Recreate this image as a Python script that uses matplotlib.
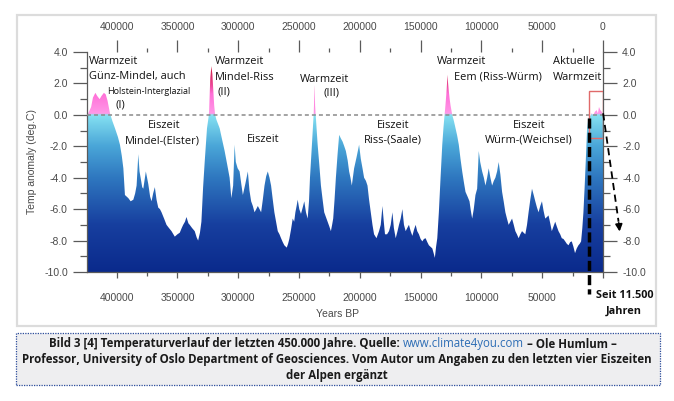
import matplotlib.pyplot as plt
import numpy as np
from matplotlib import font_manager
from matplotlib.colors import LinearSegmentedColormap
from matplotlib.patches import Rectangle
from matplotlib.ticker import FixedLocator, MultipleLocator, FormatStrFormatter, FuncFormatter

plt.rcParams['axes.unicode_minus'] = False
plt.rcParams['font.family'] = ['Liberation Sans', 'DejaVu Sans']

# Vostok Temperaturanomalie, Werte (Jahre BP, deg C)
age_bp = [424000, 421000, 419500, 417500, 416000, 414000, 412500, 410500, 409000, 407500,
          405500, 403500, 401400, 399000, 397300, 395800, 394500, 393200, 391800, 390400,
          388500, 386300, 384800, 383600, 382200, 381200, 380300, 379000, 378100, 376000,
          374000, 372500, 371300, 370000, 368600, 367200, 365800, 364400, 363100, 361000,
          359000, 357000, 354900, 352200, 350000, 348100, 346500, 345300, 343800, 342600,
          341000, 339900, 338000, 335800, 334200, 333000, 331500, 330300, 328900, 327600,
          325700, 324500, 324000, 323000, 322100, 321300, 320700, 319800, 319000, 318000,
          315300, 313200, 311200, 309000, 307100, 305700, 304200, 303000, 302000, 300500,
          298900, 297500, 296200, 294200, 292100, 290800, 289400, 288000, 286600, 285200,
          283900, 282500, 281200, 279800, 278400, 277000, 275700, 274300, 273000, 271600,
          270300, 268900, 267500, 266100, 264800, 263400, 262100, 260100, 259000, 258000,
          256600, 255200, 254000, 253000, 252000, 251100, 249800, 248400, 247000, 245700,
          244300, 242900, 241800, 241000, 239400, 238000, 237600, 237200, 236800, 236300,
          234700, 233300, 232000, 230600, 229300, 227900, 226500, 225100, 223800, 222800,
          221900, 220800, 219700, 218300, 217000, 215600, 214200, 212800, 211500, 210000,
          208800, 207700, 206600, 204700, 202700, 200600, 199200, 197800, 196500, 195000,
          193700, 192400, 191000, 189600, 188300, 186300, 184200, 182800, 181400, 180300,
          179300, 177600, 176000, 174600, 173200, 172000, 170500, 169000, 167800, 166400,
          165000, 163700, 162300, 161000, 159600, 158200, 156800, 155400, 154100, 152800,
          151400, 150000, 148600, 147300, 145900, 144500, 143200, 141800, 140400, 139300,
          138300, 137300, 136300, 135000, 133600, 132200, 131200, 130300, 129600, 128900,
          128300, 127900, 127400, 126800, 126100, 125400, 124700, 124000, 122600, 121300,
          120000, 118600, 117200, 115800, 114400, 113100, 111400, 109800, 108700, 107600,
          106300, 104900, 103500, 102200, 101000, 99400, 98000, 96700, 95300, 94000,
          92600, 91200, 89800, 88500, 87100, 85800, 84400, 83000, 81700, 80300,
          79000, 77600, 76200, 74800, 73400, 72100, 70800, 69400, 68000, 66600,
          65300, 63900, 62500, 61200, 59800, 58400, 57000, 55700, 54300, 53000,
          51600, 50200, 48900, 47500, 46100, 44800, 43400, 42100, 40700, 39300,
          38000, 36600, 35200, 33900, 32500, 31100, 29800, 28400, 27000, 25700,
          24300, 23000, 21600, 20200, 19100, 18000, 17000, 16100, 15100, 14200,
          13100, 12000, 10700, 9400, 8000, 6600, 5200, 4200, 3300, 2200,
          1100, 0]
temp_anom = [0.0, 0.5, 1.1, 1.4, 1.2, 1.0, 1.2, 1.4, 1.3, 0.9,
             0.1, -0.4, -0.85, -1.4, -1.9, -2.6, -3.4, -5.1, -5.2, -5.3,
             -5.5, -5.4, -5.0, -4.5, -2.5, -3.6, -4.0, -4.6, -4.7, -3.6,
             -4.4, -5.2, -5.5, -5.0, -4.6, -5.4, -5.9, -6.0, -6.2, -6.6,
             -7.0, -7.2, -7.4, -7.75, -7.6, -7.5, -7.2, -7.0, -6.8, -6.5,
             -6.9, -7.0, -7.2, -7.4, -7.8, -8.0, -7.5, -6.8, -4.6, -3.0,
             -0.85, -0.2, 0.2, 2.35, 3.1, 2.6, 1.8, 0.6, 0.0, -0.3,
             -0.85, -1.6, -2.3, -3.2, -4.0, -5.3, -4.5, -1.9, -3.0, -3.4,
             -3.6, -4.4, -5.1, -4.4, -3.6, -4.8, -5.5, -5.8, -6.2, -6.0,
             -5.8, -6.0, -6.2, -5.4, -4.5, -3.9, -3.6, -4.0, -4.5, -5.4,
             -6.2, -6.8, -7.4, -7.6, -7.85, -8.1, -8.3, -8.45, -8.2, -7.9,
             -7.3, -6.6, -6.8, -6.2, -5.8, -5.4, -6.0, -6.3, -5.9, -5.5,
             -6.2, -6.6, -5.5, -4.0, -1.9, 0.0, 0.8, 1.9, 0.6, 0.0,
             -1.9, -3.2, -4.5, -5.4, -6.2, -6.5, -6.8, -7.1, -7.4, -7.0,
             -6.6, -5.4, -4.0, -2.5, -1.27, -1.5, -1.7, -2.0, -2.3, -2.9,
             -3.6, -4.0, -4.5, -3.4, -2.7, -1.9, -2.8, -3.4, -4.0, -4.2,
             -4.5, -5.4, -6.2, -7.0, -7.6, -7.85, -7.4, -7.0, -5.8, -6.8,
             -7.6, -7.6, -7.4, -7.0, -6.2, -7.2, -7.85, -7.4, -7.0, -6.6,
             -6.0, -7.0, -7.4, -7.2, -7.0, -7.4, -7.7, -7.3, -7.0, -7.4,
             -7.6, -7.9, -8.05, -7.9, -7.85, -8.1, -8.3, -8.4, -8.5, -8.8,
             -9.1, -8.4, -7.85, -6.2, -4.0, -1.9, -0.8, 0.0, 0.6, 1.27,
             2.0, 2.55, 2.0, 1.5, 1.0, 0.6, 0.3, 0.0, -0.4, -0.85,
             -1.3, -1.9, -2.8, -3.6, -4.3, -4.9, -5.2, -5.5, -6.1, -6.6,
             -6.0, -5.1, -4.7, -2.3, -3.0, -3.6, -4.0, -4.5, -4.0, -3.4,
             -4.0, -4.5, -4.2, -4.0, -3.6, -3.0, -3.8, -4.9, -5.5, -6.2,
             -6.6, -7.0, -6.8, -6.6, -7.0, -7.4, -7.6, -7.85, -7.6, -7.4,
             -7.5, -7.6, -7.0, -6.2, -5.4, -4.7, -5.1, -5.5, -5.9, -6.2,
             -5.8, -5.5, -6.1, -6.6, -6.5, -6.4, -6.9, -7.4, -7.1, -6.8,
             -7.1, -7.4, -7.6, -7.85, -7.9, -8.05, -8.2, -8.3, -8.1, -8.05,
             -8.4, -8.8, -8.5, -8.3, -8.2, -8.05, -7.2, -6.2, -4.6, -3.0,
             -0.85, -0.2, -0.1, 0.1, 0.0, 0.2, 0.3, 0.1, 0.5, 0.3,
             0.2, 0.0]

x_ticks = [400000, 350000, 300000, 250000, 200000, 150000, 100000, 50000, 0]

# Farbverlauf der Fläche: blau unter 0, rosa/rot über 0
color_stops = [(-10, '#0a2a8c'), (-7, '#173f9f'), (-4, '#2f78c0'), (-2, '#4aa6d8'),
               (-0.01, '#86e2f2'), (0.0, '#ff9ae8'), (1.3, '#ff70d8'), (2.0, '#e8408a'),
               (3.2, '#c81838'), (4.0, '#c81838')]

warm_labels = [('Warmzeit', 89, 62), ('Günz-Mindel, auch', 89, 77), ('(I)', 115, 105),
               ('Warmzeit', 215, 62), ('Mindel-Riss', 215, 77), ('(II)', 218, 92),
               ('Warmzeit', 300, 79), ('(III)', 323, 93),
               ('Warmzeit', 437, 62), ('Eem (Riss-Würm)', 454, 77),
               ('Aktuelle', 553, 62), ('Warmzeit', 553, 77)]
cold_labels = [('Eiszeit', 164, 126), ('Mindel-(Elster)', 162, 141),
               ('Eiszeit', 263, 140),
               ('Eiszeit', 393, 125), ('Riss-(Saale)', 393, 140),
               ('Eiszeit', 529, 125), ('Würm-(Weichsel)', 529, 140)]

cap_line1 = ['Bild 3 [4] Temperaturverlauf der letzten 450.000 Jahre. Quelle:',
             'www.climate4you.com', '– Ole Humlum –']
cap_line2 = ('Professor, University of Oslo Department of Geosciences. '
             'Vom Autor um Angaben zu den letzten vier Eiszeiten')
cap_line3 = 'der Alpen ergänzt'

W, H = 674, 401


def fx(x):
    return x / W


def fy(y):
    return 1 - y / H


fig = plt.figure(figsize=(W / 100, H / 100), dpi=100)

# Rahmen um die Grafik und Kasten der Bildunterschrift
fig.add_artist(Rectangle((fx(17), fy(326)), fx(656) - fx(17), fy(15) - fy(326),
                         transform=fig.transFigure, fill=False, ec='#dcdcdc', lw=1.6))
fig.add_artist(Rectangle((fx(16), fy(385)), fx(660) - fx(16), fy(333) - fy(385),
                         transform=fig.transFigure, fc='#eeeef0', ec='#2b4c9b',
                         lw=0.9, ls=(0, (1, 1))))

ax = fig.add_axes([fx(87), fy(272), fx(603) - fx(87), fy(52) - fy(272)])

cmap = LinearSegmentedColormap.from_list('vostok', [((v + 10) / 14, c) for v, c in color_stops])
poly = ax.fill_between(age_bp, temp_anom, -10, color='none', lw=0)
grad = np.linspace(-10, 4, 1400).reshape(-1, 1)
im = ax.imshow(grad, extent=(age_bp[0], age_bp[-1], -10, 4), origin='lower', aspect='auto',
               cmap=cmap, vmin=-10, vmax=4, interpolation='bilinear', zorder=1)
im.set_clip_path(poly.get_paths()[0], transform=ax.transData)

ax.set_xlim(424400, 0)
ax.set_ylim(-10, 4)
ax.axhline(0, color='#8a8a8a', lw=1.1, ls=(0, (2.6, 2)), zorder=3)

tick_col = '#5a5a5a'
lab_col = '#4a4a4a'
for s in ['left', 'right', 'bottom']:
    ax.spines[s].set_color(tick_col)
    ax.spines[s].set_linewidth(0.9)
ax.spines['top'].set_visible(False)

# unten ist die Beschriftung "0" durch "Seit 11.500" ersetzt
ax.xaxis.set_major_locator(FixedLocator(x_ticks))
ax.xaxis.set_minor_locator(FixedLocator([t + 25000 for t in x_ticks[1:]]))
ax.xaxis.set_major_formatter(FuncFormatter(lambda v, p: '' if v == 0 else '%d' % v))
ax.yaxis.set_major_locator(MultipleLocator(2))
ax.yaxis.set_minor_locator(MultipleLocator(1))
ax.yaxis.set_major_formatter(FormatStrFormatter('%.1f'))
ax.tick_params(axis='y', which='both', left=True, right=True, labelleft=True, labelright=True,
               width=0.9, color=tick_col, labelsize=7.5, labelcolor=lab_col, pad=3.8)
ax.tick_params(axis='y', which='major', length=10)
ax.tick_params(axis='y', which='minor', length=5)
ax.tick_params(axis='x', which='both', width=0.9, color=tick_col, labelsize=7.5,
               labelcolor=lab_col, pad=11)
ax.tick_params(axis='x', which='major', length=4.3)
ax.tick_params(axis='x', which='minor', length=3)

top = ax.secondary_xaxis('top')
top.xaxis.set_major_locator(FixedLocator(x_ticks))
top.xaxis.set_minor_locator(FixedLocator([t + 25000 for t in x_ticks[1:]]))
top.xaxis.set_major_formatter(FormatStrFormatter('%d'))
top.tick_params(which='both', width=0.9, color=tick_col, labelsize=7.5, labelcolor=lab_col, pad=5.5)
top.tick_params(which='major', length=8.6)
top.tick_params(which='minor', length=3)
for s in top.spines.values():
    s.set_visible(False)

fig.text(fx(32), fy(162), 'Temp anomaly (deg.C)', rotation=90, ha='center', va='center',
         fontsize=7.5, color=lab_col)
fig.text(fx(338), fy(314), 'Years BP', ha='center', va='center', fontsize=7.5, color=lab_col)

# Ergänzungen des Autors
ax.add_patch(Rectangle((0, -1.5), 11500, 3.0, fill=False, ec='#e06a6a', lw=1.0, zorder=4))
ax.plot([11500, 11500], [-0.2, -11.4], color='black', lw=2.5, ls=(0, (2.9, 1.2)),
        clip_on=False, zorder=5)
ax.plot([-100, -12800], [0.1, -6.8], color='black', lw=1.3, ls=(0, (4, 2.5)),
        clip_on=False, zorder=5)
ax.annotate('', xy=(-13900, -7.6), xytext=(-12700, -6.7),
            arrowprops=dict(arrowstyle='-|>', color='black', lw=1.3, mutation_scale=10),
            annotation_clip=False, zorder=5)

ann = dict(family=['Open Sans', 'DejaVu Sans'], fontsize=7.9, color='#111111', va='center')
for txt, x, y in warm_labels:
    fig.text(fx(x), fy(y), txt, ha='left', **ann)
for txt, x, y in cold_labels:
    fig.text(fx(x), fy(y), txt, ha='center', **ann)
fig.text(fx(107), fy(91), 'Holstein-Interglazial', ha='left', va='center',
         family=['Open Sans', 'DejaVu Sans'], fontsize=6.5, color='#111111')
fig.text(fx(596), fy(296), 'Seit 11.500', ha='left', va='center', weight='bold',
         family=['Open Sans', 'DejaVu Sans'], fontsize=7.8, color='#111111')
fig.text(fx(624), fy(311), 'Jahren', ha='center', va='center', weight='bold',
         family=['Open Sans', 'DejaVu Sans'], fontsize=7.8, color='#111111')

# Bildunterschrift, Schriftgröße an die Breite der zweiten Zeile angepasst
avail = {f.name for f in font_manager.fontManager.ttflist}
cap_font = next(f for f in ['Liberation Sans Narrow', 'Open Sans', 'DejaVu Sans'] if f in avail)
cap_kw = dict(family=cap_font, va='center', color='#1a1a1a')
probe = fig.text(0, 0, cap_line2, fontsize=8, weight='bold', **cap_kw)
fig.canvas.draw()
r = fig.canvas.get_renderer()
cap_size = 8 * 634 / probe.get_window_extent(r).width
probe.remove()

fig.text(fx(337), fy(360), cap_line2, ha='center', fontsize=cap_size, weight='bold', **cap_kw)
fig.text(fx(337), fy(375), cap_line3, ha='center', fontsize=cap_size, weight='bold', **cap_kw)

sp1 = fig.text(0, 0, 'a a', fontsize=cap_size, weight='bold', **cap_kw)
sp2 = fig.text(0, 0, 'aa', fontsize=cap_size, weight='bold', **cap_kw)
space = sp1.get_window_extent(r).width - sp2.get_window_extent(r).width
sp1.remove()
sp2.remove()
styles = [('#1a1a1a', 'bold'), ('#2d6db5', 'normal'), ('#1a1a1a', 'bold')]
pieces = []
for txt, (col, wt) in zip(cap_line1, styles):
    t = fig.text(0, fy(344), txt, ha='left', va='center', fontsize=cap_size, weight=wt,
                 family=cap_font, color=col)
    pieces.append((t, t.get_window_extent(r).width))
total = sum(w for _, w in pieces) + space * (len(pieces) - 1)
x0 = 333 - total / 2
for t, w in pieces:
    t.set_x(fx(x0))
    x0 += w + space

fig.savefig('out.png', dpi=100)
